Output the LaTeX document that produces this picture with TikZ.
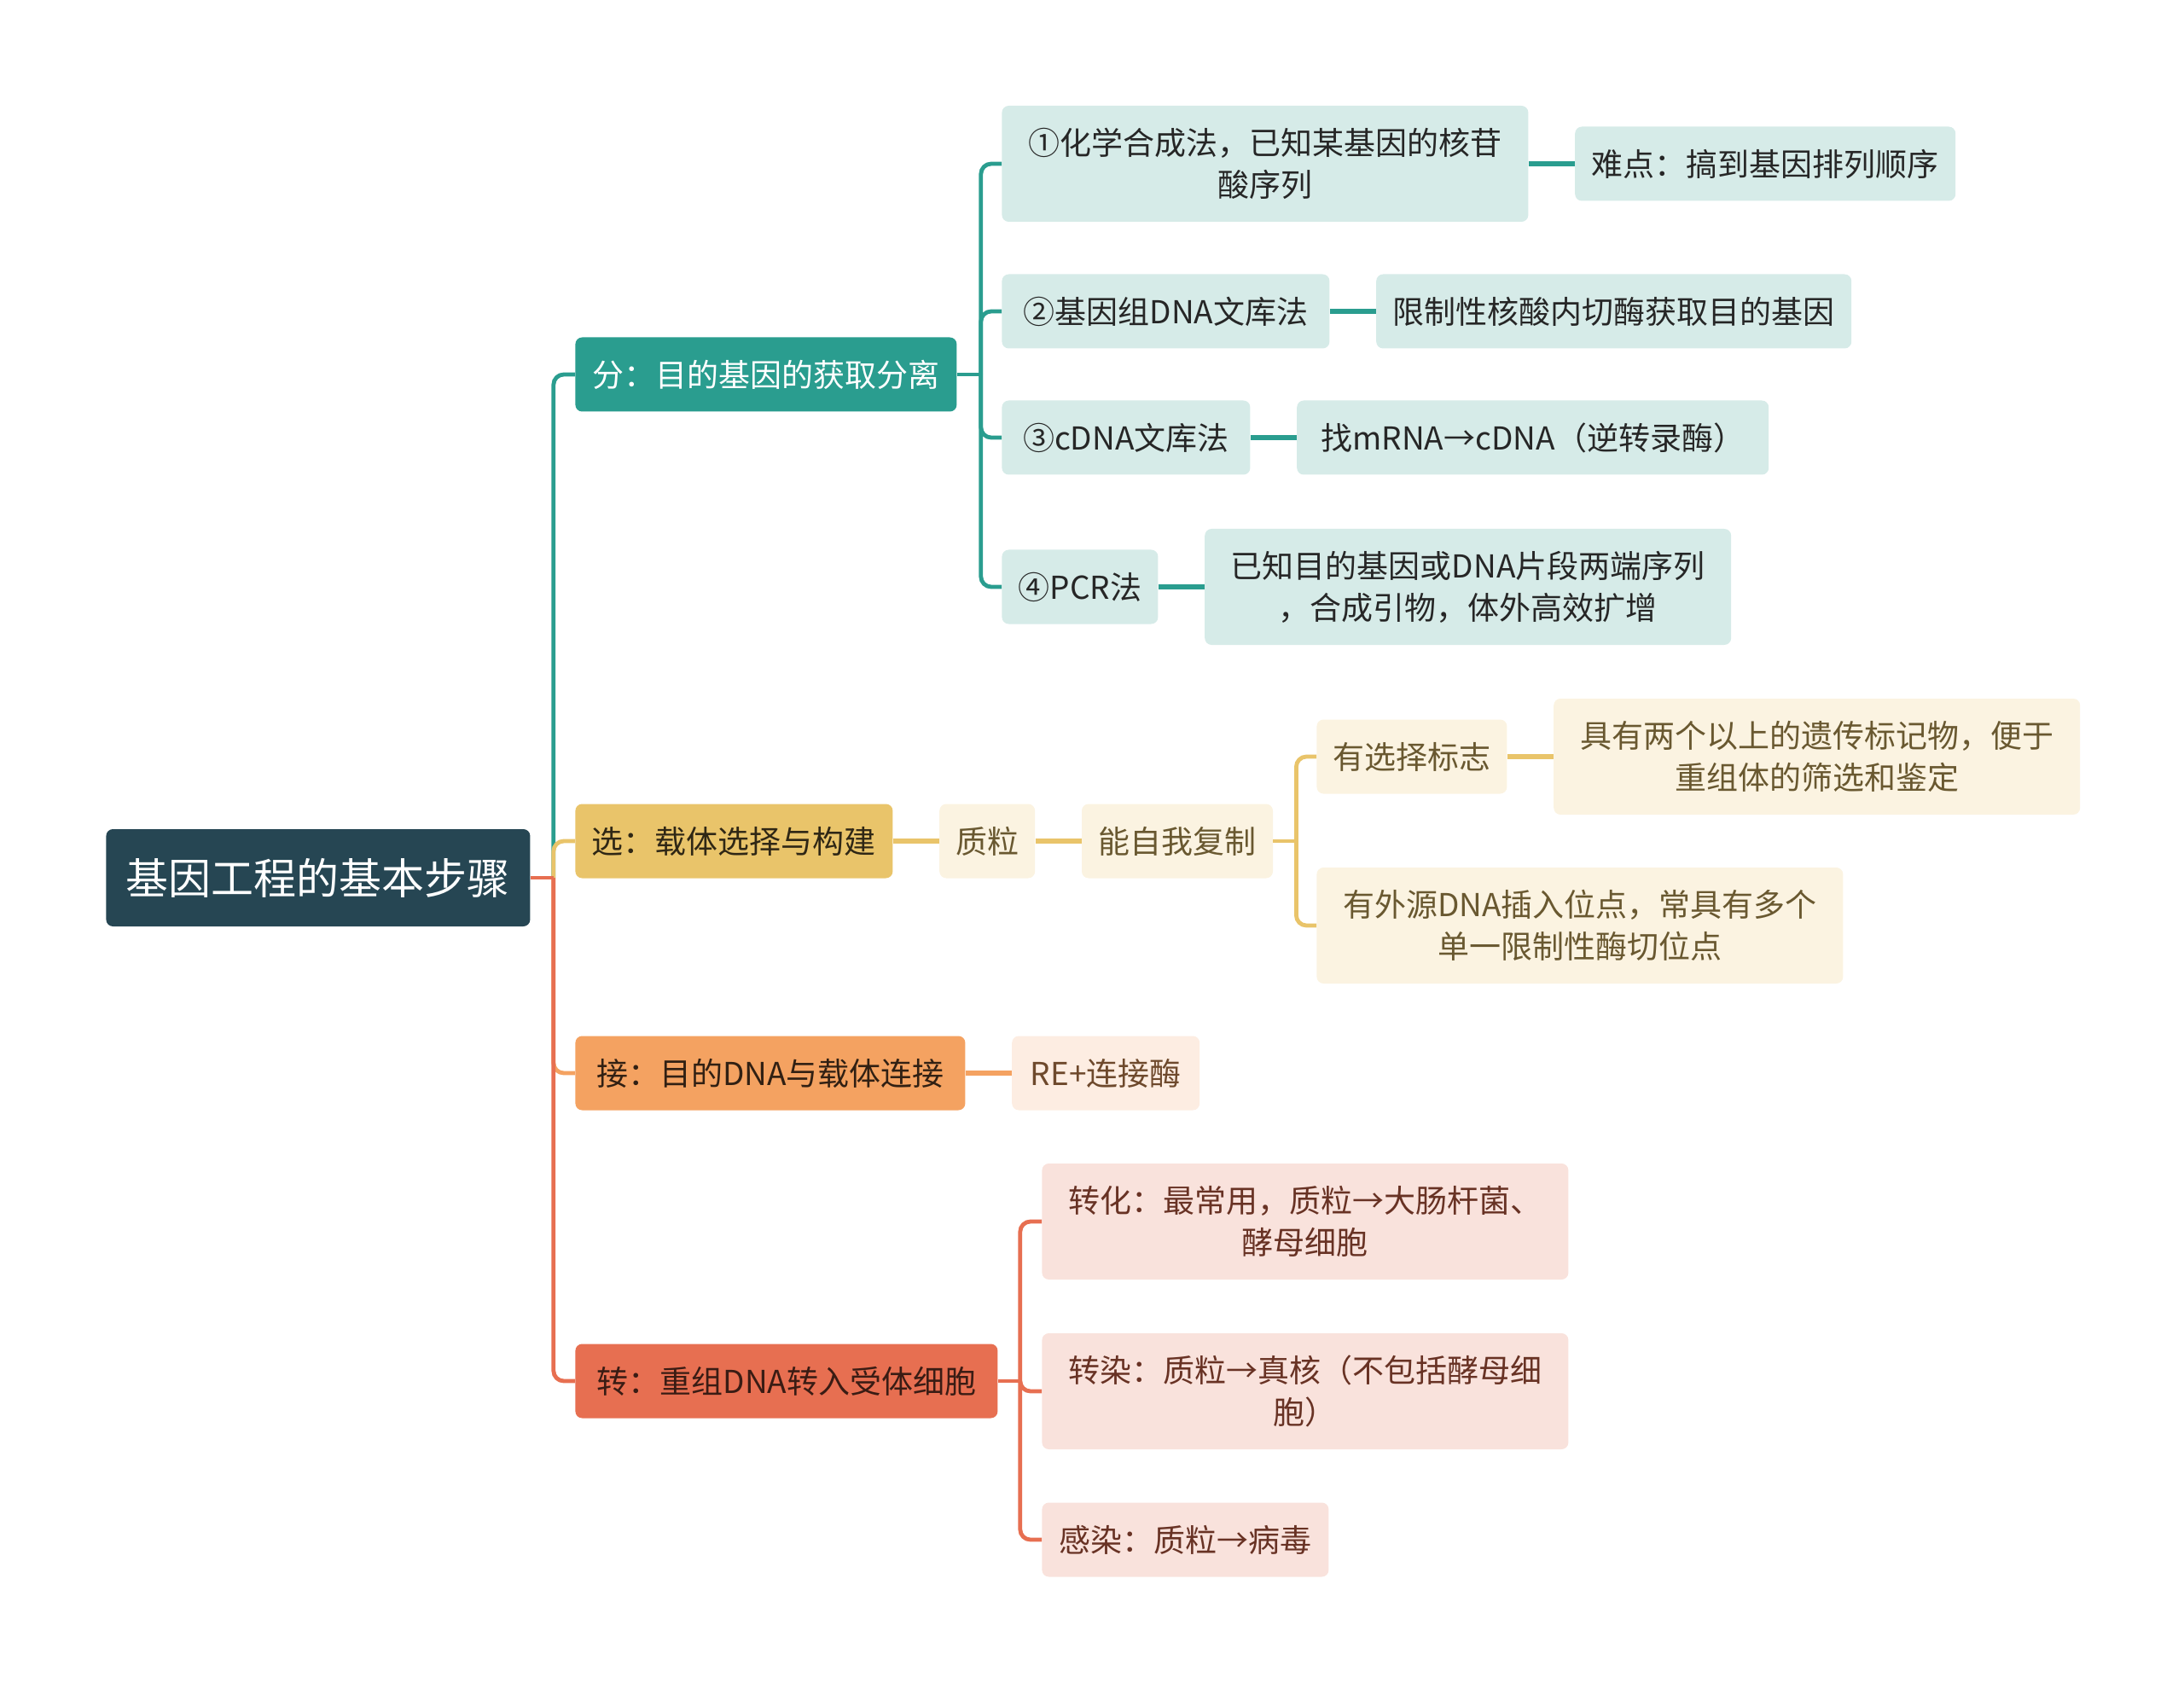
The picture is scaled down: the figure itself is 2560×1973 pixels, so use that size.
\documentclass[tikz,border=0pt]{standalone}
\usepackage{fontspec}
\setmainfont{Noto Sans CJK SC}
\usetikzlibrary{positioning}
\definecolor{rootc}{HTML}{264653}
\definecolor{tealc}{HTML}{2A9D8F}
\definecolor{tealL}{HTML}{D6EBE8}
\definecolor{yelc}{HTML}{E9C46A}
\definecolor{yelL}{HTML}{FBF3E1}
\definecolor{orac}{HTML}{F4A261}
\definecolor{oraL}{HTML}{FDEDE2}
\definecolor{redc}{HTML}{E76F51}
\definecolor{redL}{HTML}{F9E2DC}
\tikzset{
  box/.style={rounded corners=4pt, inner xsep=9.5pt, inner ysep=0pt, minimum height=43.5pt,
    align=center, font=\fontsize{18.5pt}{24.5pt}\selectfont},
  tall/.style={minimum height=68pt, minimum width=308.5pt},
  rootbox/.style={box, fill=rootc, text=white, minimum width=248.5pt, minimum height=57pt,
    font=\fontsize{25pt}{30pt}\selectfont},
  tmain/.style={box, fill=tealc, text=white},
  tsub/.style={box, fill=tealL, text=black!85},
  ymain/.style={box, fill=yelc, text=black!80!yelc},
  ysub/.style={box, fill=yelL, text=yelc!45!black},
  omain/.style={box, fill=orac, text=black!80!orac},
  osub/.style={box, fill=oraL, text=orac!45!black},
  rmain/.style={box, fill=redc, text=black!75!redc},
  rsub/.style={box, fill=redL, text=redc!45!black},
  link/.style={line width=2.4pt},
  chain/.style={line width=3pt},
}
\begin{document}
\begin{tikzpicture}[x=0.5pt, y=-0.5pt, node distance=27pt]
  \useasboundingbox (0,0) rectangle (2560,1973);
  % root and main steps
  \node[rootbox, anchor=west] (root) at (124,1029) {基因工程的基本步骤};
  \node[tmain, anchor=west, minimum width=223.5pt] (fen) at (674,439) {分：目的基因的获取分离};
  \node[ymain, anchor=west, minimum width=186pt] (xuan) at (674,986) {选：载体选择与构建};
  \node[omain, anchor=west, minimum width=228.5pt] (jie) at (674,1258) {接：目的DNA与载体连接};
  \node[rmain, anchor=west, minimum width=247.5pt] (zhuan) at (674,1619) {转：重组DNA转入受体细胞};
  % 分
  \node[tsub, tall, anchor=west] (m1) at (1174,192) {①化学合成法，已知某基因的核苷\\酸序列};
  \node[tsub, anchor=west, minimum width=192pt] (m2) at (1174,365) {②基因组DNA文库法};
  \node[tsub, anchor=west, minimum width=145.5pt] (m3) at (1174,513) {③cDNA文库法};
  \node[tsub, anchor=west, minimum width=91.5pt] (m4) at (1174,688) {④PCR法};
  \node[tsub, minimum width=223pt] (m1a) [right=of m1] {难点：搞到基因排列顺序};
  \node[tsub, minimum width=278.5pt] (m2a) [right=of m2] {限制性核酸内切酶获取目的基因};
  \node[tsub, minimum width=276.5pt] (m3a) [right=of m3] {找mRNA→cDNA（逆转录酶）};
  \node[tsub, tall] (m4a) [right=of m4] {已知目的基因或DNA片段两端序列\\，合成引物，体外高效扩增};
  % 选
  \node[ysub, minimum width=55.5pt] (zhili) [right=of xuan] {质粒};
  \node[ysub, minimum width=112pt] (fuzhi) [right=of zhili] {能自我复制};
  \node[ysub, anchor=west, minimum width=111pt] (biaozhi) at (1543,887) {有选择标志};
  \node[ysub, tall] (biaoji) [right=of biaozhi] {具有两个以上的遗传标记物，便于\\重组体的筛选和鉴定};
  \node[ysub, tall, anchor=west] (weidian) at (1543,1085) {有外源DNA插入位点，常具有多个\\单一限制性酶切位点};
  % 接
  \node[osub, minimum width=110pt] (mei) [right=of jie] {RE+连接酶};
  % 转
  \node[rsub, tall, anchor=west] (r1) at (1221,1432) {转化：最常用，质粒→大肠杆菌、\\酵母细胞};
  \node[rsub, tall, anchor=west] (r2) at (1221,1631) {转染：质粒→真核（不包括酵母细\\胞）};
  \node[rsub, anchor=west, minimum width=168pt] (r3) at (1221,1805) {感染：质粒→病毒};

  % connectors
  \coordinate (rootJ) at ([xshift=13.5pt]root.east);
  \coordinate (fenJ) at ([xshift=14pt]fen.east);
  \coordinate (fuzhiJ) at ([xshift=13.5pt]fuzhi.east);
  \coordinate (zhuanJ) at ([xshift=13pt]zhuan.east);

  \draw[link, tealc, rounded corners=6pt] (rootJ) |- (fen.west);
  \draw[link, yelc, rounded corners=6pt] (rootJ) |- (xuan.west);
  \draw[link, orac, rounded corners=6pt] (rootJ) |- (jie.west);
  \draw[link, redc, rounded corners=6pt] (rootJ) |- (zhuan.west);
  \draw[link, redc] (root.east) -- (rootJ);

  \draw[link, tealc] (fen.east) -- (fenJ);
  \foreach \c in {m1,m2,m3,m4}
    \draw[link, tealc, rounded corners=6pt] (fenJ) |- (\c.west);
  \foreach \a/\b in {m1/m1a,m2/m2a,m3/m3a,m4/m4a}
    \draw[chain, tealc] (\a) -- (\b);

  \draw[chain, yelc] (xuan) -- (zhili);
  \draw[chain, yelc] (zhili) -- (fuzhi);
  \draw[link, yelc] (fuzhi.east) -- (fuzhiJ);
  \foreach \c in {biaozhi,weidian}
    \draw[link, yelc, rounded corners=6pt] (fuzhiJ) |- (\c.west);
  \draw[chain, yelc] (biaozhi) -- (biaoji);

  \draw[chain, orac] (jie) -- (mei);

  \draw[link, redc] (zhuan.east) -- (zhuanJ);
  \foreach \c in {r1,r2,r3}
    \draw[link, redc, rounded corners=6pt] (zhuanJ) |- (\c.west);
\end{tikzpicture}
\end{document}
